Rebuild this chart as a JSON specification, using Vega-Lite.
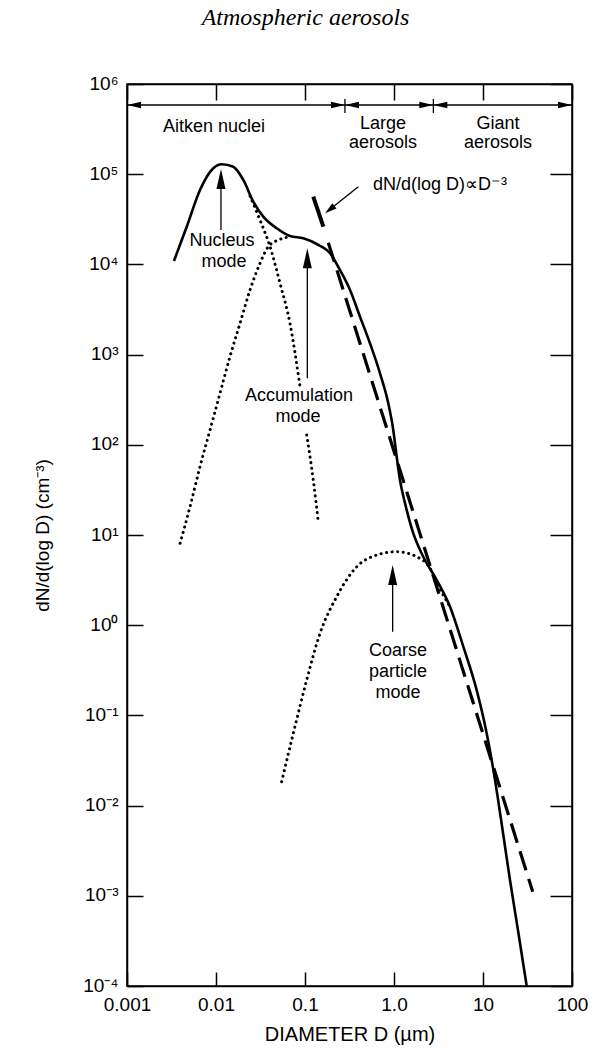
{
  "$schema": "https://vega.github.io/schema/vega-lite/v6.json",
  "width": 445,
  "height": 902,
  "autosize": "none",
  "padding": {"left": 127, "top": 84, "right": 37, "bottom": 64},
  "background": "white",
  "title": {
    "text": "Atmospheric aerosols",
    "font": "Liberation Serif",
    "fontStyle": "italic",
    "fontWeight": "normal",
    "fontSize": 24,
    "color": "black",
    "anchor": "middle",
    "frame": "group",
    "dx": -44,
    "offset": 25,
    "baseline": "alphabetic"
  },
  "config": {
    "view": {"stroke": "black", "strokeWidth": 1.5},
    "font": "Liberation Sans",
    "axis": {
      "labelFont": "Liberation Sans",
      "titleFont": "Liberation Sans",
      "labelFontSize": 19,
      "titleFontSize": 19,
      "labelColor": "black",
      "titleColor": "black",
      "domainColor": "black",
      "tickColor": "black",
      "domainWidth": 1.5,
      "tickWidth": 1.5,
      "grid": false,
      "titleFontWeight": "normal",
      "labelFlush": false,
      "labelOverlap": false,
      "labelBound": false
    }
  },
  "datasets": {
    "solid": [
      {"D": 0.00337, "N": 10920}, {"D": 0.00469, "N": 26180}, {"D": 0.00661, "N": 66800},
      {"D": 0.00933, "N": 116200}, {"D": 0.01159, "N": 128800}, {"D": 0.01563, "N": 121100},
      {"D": 0.02028, "N": 86300}, {"D": 0.02625, "N": 49550}, {"D": 0.03396, "N": 33800},
      {"D": 0.0481, "N": 25120}, {"D": 0.0678, "N": 20640}, {"D": 0.0957, "N": 19450},
      {"D": 0.1352, "N": 16830}, {"D": 0.191, "N": 13280}, {"D": 0.247, "N": 8670},
      {"D": 0.3206, "N": 5200}, {"D": 0.415, "N": 2630}, {"D": 0.537, "N": 1334},
      {"D": 0.696, "N": 621}, {"D": 0.863, "N": 288}, {"D": 0.981, "N": 146},
      {"D": 1.072, "N": 73.8}, {"D": 1.167, "N": 40.7}, {"D": 1.33, "N": 22.5},
      {"D": 1.648, "N": 10.4}, {"D": 2.133, "N": 5.74}, {"D": 3.02, "N": 3.17},
      {"D": 4.26, "N": 1.6}, {"D": 6.01, "N": 0.578}, {"D": 8.49, "N": 0.191},
      {"D": 10.81, "N": 0.0689}, {"D": 13.65, "N": 0.01923}, {"D": 16.79, "N": 0.00497},
      {"D": 20.1, "N": 0.001496}, {"D": 24.7, "N": 0.000418}, {"D": 30.97, "N": 0.0001}
    ],
    "nucleus": [
      {"D": 0.0241, "N": 57300, "seg": 1}, {"D": 0.0312, "N": 31050, "seg": 1},
      {"D": 0.0405, "N": 15710, "seg": 1}, {"D": 0.0524, "N": 6170, "seg": 1},
      {"D": 0.0678, "N": 2223, "seg": 1}, {"D": 0.0879, "N": 440, "seg": 1},
      {"D": 0.1045, "N": 128.5, "seg": 2}, {"D": 0.1239, "N": 40.7, "seg": 2},
      {"D": 0.141, "N": 14.0, "seg": 2}
    ],
    "accum": [
      {"D": 0.00395, "N": 8.09}, {"D": 0.00511, "N": 20.6}, {"D": 0.00661, "N": 57.2},
      {"D": 0.00857, "N": 146}, {"D": 0.01109, "N": 372}, {"D": 0.01435, "N": 948},
      {"D": 0.01862, "N": 2223}, {"D": 0.0241, "N": 5200}, {"D": 0.0312, "N": 10280},
      {"D": 0.0387, "N": 15710}, {"D": 0.0524, "N": 18970}, {"D": 0.0678, "N": 20280}
    ],
    "coarse": [
      {"D": 0.0547, "N": 0.0184}, {"D": 0.0739, "N": 0.0634}, {"D": 0.1045, "N": 0.2466},
      {"D": 0.1476, "N": 0.813}, {"D": 0.227, "N": 2.07}, {"D": 0.381, "N": 4.45},
      {"D": 0.64, "N": 6.0}, {"D": 1.072, "N": 6.53}, {"D": 1.8, "N": 5.74},
      {"D": 2.54, "N": 4.27}, {"D": 3.04, "N": 2.94}, {"D": 4.26, "N": 1.6}
    ],
    "powerlaw": [
      {"D": 0.1828, "N": 17400}, {"D": 36.2, "N": 0.00111}
    ],
    "marker": [
      {"D": 0.1239, "N": 56300}, {"D": 0.1607, "N": 26180}
    ],
    "lines": [
      {"x": 0.01137, "y": 24060, "x2": 0.01137, "y2": 88500},
      {"x": 0.1062, "y": 546, "x2": 0.1062, "y2": 11690},
      {"x": 0.966, "y": 0.847, "x2": 0.966, "y2": 3.6},
      {"x": 0.397, "y": 72680, "x2": 0.1897, "y2": 40520},
      {"x": 0.001, "y": 585000, "x2": 100, "y2": 585000},
      {"x": 0.281, "y": 682000, "x2": 0.281, "y2": 476000},
      {"x": 2.77, "y": 682000, "x2": 2.77, "y2": 476000}
    ],
    "upheads": [
      {"D": 0.01137, "N": 88500}, {"D": 0.1062, "N": 11690}, {"D": 0.966, "N": 3.6}
    ],
    "diaghead": [
      {"D": 0.1897, "N": 40520}
    ],
    "bracketheads": [
      {"D": 0.0012, "N": 585000, "dir": "left"}, {"D": 0.235, "N": 585000, "dir": "right"},
      {"D": 0.3373, "N": 585000, "dir": "left"}, {"D": 2.306, "N": 585000, "dir": "right"},
      {"D": 3.313, "N": 585000, "dir": "left"}, {"D": 83.4, "N": 585000, "dir": "right"}
    ],
    "labels": [
      {"D": 0.0095, "N": 333800, "t": "Aitken nuclei"},
      {"D": 0.7516, "N": 359000, "t": "Large"},
      {"D": 0.7516, "N": 221800, "t": "aerosols"},
      {"D": 14.75, "N": 359000, "t": "Giant"},
      {"D": 14.75, "N": 221800, "t": "aerosols"},
      {"D": 3.29, "N": 75900, "t": "dN/d(log D)∝D⁻³"},
      {"D": 0.01166, "N": 18300, "t": "Nucleus"},
      {"D": 0.0123, "N": 10500, "t": "mode"},
      {"D": 0.0857, "N": 345, "t": "Accumulation"},
      {"D": 0.0833, "N": 201, "t": "mode"},
      {"D": 1.109, "N": 0.52, "t": "Coarse"},
      {"D": 1.109, "N": 0.305, "t": "particle"},
      {"D": 1.109, "N": 0.177, "t": "mode"}
    ]
  },
  "layer": [
    {
      "data": {"name": "solid"},
      "mark": {"type": "line", "color": "black", "strokeWidth": 2.6, "interpolate": "monotone", "clip": true},
      "encoding": {
        "x": {
          "field": "D", "type": "quantitative",
          "scale": {"type": "log", "domain": [0.001, 100], "nice": false},
          "axis": {
            "orient": "bottom",
            "values": [0.001, 0.01, 0.1, 1, 10, 100],
            "tickSize": -14,
            "labelPadding": 23,
            "labelExpr": "datum.value == 1 ? '1.0' : datum.value < 1 ? format(datum.value, '.3~f') : format(datum.value, 'd')",
            "title": "DIAMETER D (µm)",
            "titleFontSize": 20,
            "titlePadding": 10
          }
        },
        "y": {
          "field": "N", "type": "quantitative",
          "scale": {"type": "log", "domain": [0.0001, 1000000], "nice": false},
          "axis": {
            "orient": "left",
            "values": [0.0001, 0.001, 0.01, 0.1, 1, 10, 100, 1000, 10000, 100000, 1000000],
            "tickSize": -16,
            "labelPadding": 25,
            "labelOffset": -1,
            "labelExpr": "['10⁻⁴','10⁻³','10⁻²','10⁻¹','10⁰','10¹','10²','10³','10⁴','10⁵','10⁶'][round(log(datum.value)/LN10)+4]",
            "title": "dN/d(log D) (cm⁻³)",
            "titlePadding": 30
          }
        }
      }
    },
    {
      "data": {"name": "powerlaw"},
      "mark": {"type": "line", "color": "black", "strokeWidth": 3.2, "strokeDash": [20, 9]},
      "encoding": {
        "x": {
          "field": "D", "type": "quantitative",
          "axis": {"orient": "top", "values": [0.001, 0.01, 0.1, 1, 10, 100], "tickSize": -16, "labels": false, "title": null}
        },
        "y": {
          "field": "N", "type": "quantitative",
          "axis": {"orient": "right", "values": [0.0001, 0.001, 0.01, 0.1, 1, 10, 100, 1000, 10000, 100000, 1000000], "tickSize": -22, "labels": false, "title": null}
        }
      }
    },
    {
      "data": {"name": "nucleus"},
      "mark": {"type": "line", "color": "black", "strokeWidth": 3, "strokeDash": [0.1, 5.5], "strokeCap": "round", "interpolate": "monotone"},
      "encoding": {
        "x": {"field": "D", "type": "quantitative", "axis": null},
        "y": {"field": "N", "type": "quantitative", "axis": null},
        "detail": {"field": "seg", "type": "nominal"}
      }
    },
    {
      "data": {"name": "accum"},
      "mark": {"type": "line", "color": "black", "strokeWidth": 3, "strokeDash": [0.1, 5.5], "strokeCap": "round", "interpolate": "monotone"},
      "encoding": {
        "x": {"field": "D", "type": "quantitative", "axis": null},
        "y": {"field": "N", "type": "quantitative", "axis": null}
      }
    },
    {
      "data": {"name": "coarse"},
      "mark": {"type": "line", "color": "black", "strokeWidth": 3, "strokeDash": [0.1, 5.5], "strokeCap": "round", "interpolate": "monotone"},
      "encoding": {
        "x": {"field": "D", "type": "quantitative", "axis": null},
        "y": {"field": "N", "type": "quantitative", "axis": null}
      }
    },
    {
      "data": {"name": "marker"},
      "mark": {"type": "line", "color": "black", "strokeWidth": 4},
      "encoding": {
        "x": {"field": "D", "type": "quantitative", "axis": null},
        "y": {"field": "N", "type": "quantitative", "axis": null}
      }
    },
    {
      "data": {"name": "lines"},
      "mark": {"type": "rule", "color": "black", "strokeWidth": 1.3},
      "encoding": {
        "x": {"field": "x", "type": "quantitative", "axis": null},
        "y": {"field": "y", "type": "quantitative", "axis": null},
        "x2": {"field": "x2"},
        "y2": {"field": "y2"}
      }
    },
    {
      "data": {"name": "upheads"},
      "mark": {"type": "point", "shape": "M0,-1L-0.45,1L0.45,1Z", "size": 400, "filled": true, "color": "black", "opacity": 1, "strokeWidth": 0},
      "encoding": {
        "x": {"field": "D", "type": "quantitative", "axis": null},
        "y": {"field": "N", "type": "quantitative", "axis": null}
      }
    },
    {
      "data": {"name": "diaghead"},
      "mark": {"type": "point", "shape": "M0,-1L-0.55,1L0.55,1Z", "size": 144, "angle": 231, "filled": true, "color": "black", "opacity": 1, "strokeWidth": 0},
      "encoding": {
        "x": {"field": "D", "type": "quantitative", "axis": null},
        "y": {"field": "N", "type": "quantitative", "axis": null}
      }
    },
    {
      "data": {"name": "bracketheads"},
      "mark": {"type": "point", "size": 196, "filled": true, "color": "black", "opacity": 1, "strokeWidth": 0},
      "encoding": {
        "x": {"field": "D", "type": "quantitative", "axis": null},
        "y": {"field": "N", "type": "quantitative", "axis": null},
        "shape": {
          "field": "dir", "type": "nominal",
          "scale": {"domain": ["left", "right"], "range": ["M-1,0L1,-0.45L1,0.45Z", "M1,0L-1,-0.45L-1,0.45Z"]},
          "legend": null
        }
      }
    },
    {
      "data": {"name": "labels"},
      "mark": {"type": "text", "font": "Liberation Sans", "fontSize": 18, "color": "black", "align": "center", "baseline": "middle"},
      "encoding": {
        "x": {"field": "D", "type": "quantitative", "axis": null},
        "y": {"field": "N", "type": "quantitative", "axis": null},
        "text": {"field": "t", "type": "nominal"}
      }
    }
  ],
  "resolve": {"axis": {"x": "independent", "y": "independent"}, "scale": {"shape": "independent"}}
}
